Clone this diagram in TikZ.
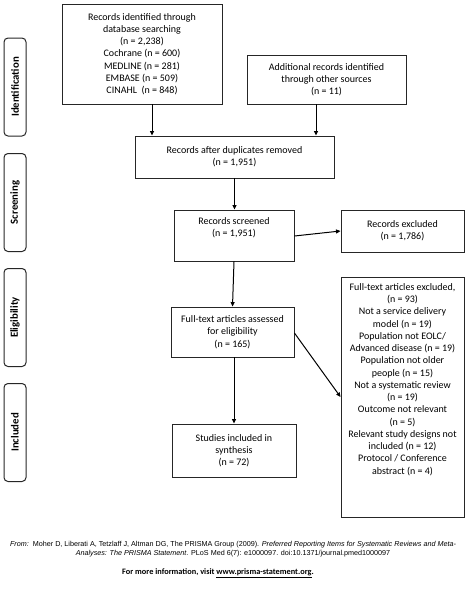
\documentclass[tikz,border=0pt]{standalone}
\usepackage{fontspec}
\setmainfont{Carlito}
\newfontfamily\arialf{Liberation Sans}
\usetikzlibrary{arrows.meta}
\begin{document}
\begin{tikzpicture}[x=1pt,y=1pt,
  box/.style={draw=black!85,line width=0.9pt,align=center,inner sep=0pt,
    font=\fontsize{10}{12.25}\selectfont},
  phase/.style={draw=black!85,line width=1pt,rounded corners=4pt,rotate=90,
    minimum width=98pt,minimum height=22pt,inner sep=0pt,
    font=\fontsize{10.8}{12}\selectfont\bfseries},
  arr/.style={line width=1pt,-{Triangle[length=4.5pt,width=4pt]}}]
\useasboundingbox (0,0) rectangle (470,-598);
% phase labels
\node[phase] (pid) at (15,-87) {Identification};
\node[phase] (psc) at (15,-202.5) {Screening};
\node[phase] (pel) at (15,-317.5) {Eligibility};
\node[phase] (pin) at (15,-432.5) {Included};
% boxes
\node[box,minimum width=160pt,minimum height=100pt] (db) at (142,-54)
  {Records identified through\\database searching\\(n = 2,238)\\Cochrane (n = 600)\\MEDLINE (n = 281)\\EMBASE (n = 509)\\CINAHL\ \ (n = 848)};
\node[box,minimum width=159pt,minimum height=49pt] (add) at (326.5,-79.5)
  {Additional records identified\\through other sources\\(n = 11)};
\node[box,minimum width=199pt,minimum height=42pt] (dup) at (234.5,-157)
  {Records after duplicates removed\\(n = 1,951)};
\node[box,minimum width=120pt,minimum height=51pt] (scr) at (234,-235.5)
  {Records screened\\(n = 1,951)\\[4pt]};
\node[box,minimum width=123pt,minimum height=42pt] (exc) at (402.5,-231)
  {Records excluded\\(n = 1,786)};
\node[box,minimum width=123pt,minimum height=50pt] (ft) at (232.5,-332)
  {Full-text articles assessed\\for eligibility\\(n = 165)};
\node[box,minimum width=123pt,minimum height=240pt] (fte) at (402.5,-397) {};
\node[box,draw=none,anchor=north] (ftetext) at (402.5,-283)
  {Full-text articles excluded,\\(n = 93)\\Not a service delivery\\model (n = 19)\\Population not EOLC/\\Advanced disease (n = 19)\\Population not older\\people (n = 15)\\Not a systematic review\\(n = 19)\\Outcome not relevant\\(n = 5)\\Relevant study designs not\\included (n = 12)\\Protocol / Conference\\abstract (n = 4)};
\node[box,minimum width=124pt,minimum height=53pt] (inc) at (234,-450.5)
  {Studies included in\\synthesis\\(n = 72)};
% connectors
\draw[arr] ([xshift=10pt]db.south) -- ([xshift=10pt]db.south |- dup.north);
\draw[arr] ([xshift=-10.5pt]add.south) -- ([xshift=-10.5pt]add.south |- dup.north);
\draw[arr] (dup.south) -- (dup.south |- scr.north);
\draw[arr] ([yshift=-0.5pt]scr.east) -- (exc.west);
\draw[arr] (scr.south) -- (ft.north);
\draw[arr] ([yshift=-1pt]ft.east) -- (fte.west);
\draw[arr] ([xshift=1.5pt]ft.south) -- (inc.north);
% footer
\node[align=center,inner sep=0pt,font=\arialf\fontsize{7.2}{8.4}\selectfont] (cite) at (233,-549)
  {\textit{From:}\ \ Moher D, Liberati A, Tetzlaff J, Altman DG, The PRISMA Group (2009). \textit{Preferred Reporting Items for Systematic Reviews and Meta-}\\\textit{Analyses: The PRISMA Statement}. PLoS Med 6(7): e1000097. doi:10.1371/journal.pmed1000097};
\node[inner sep=0pt,font=\fontsize{8.3}{9}\selectfont\bfseries] (more) at (218,-573)
  {For more information, visit \underline{www.prisma-statement.org}.};
\end{tikzpicture}
\end{document}
